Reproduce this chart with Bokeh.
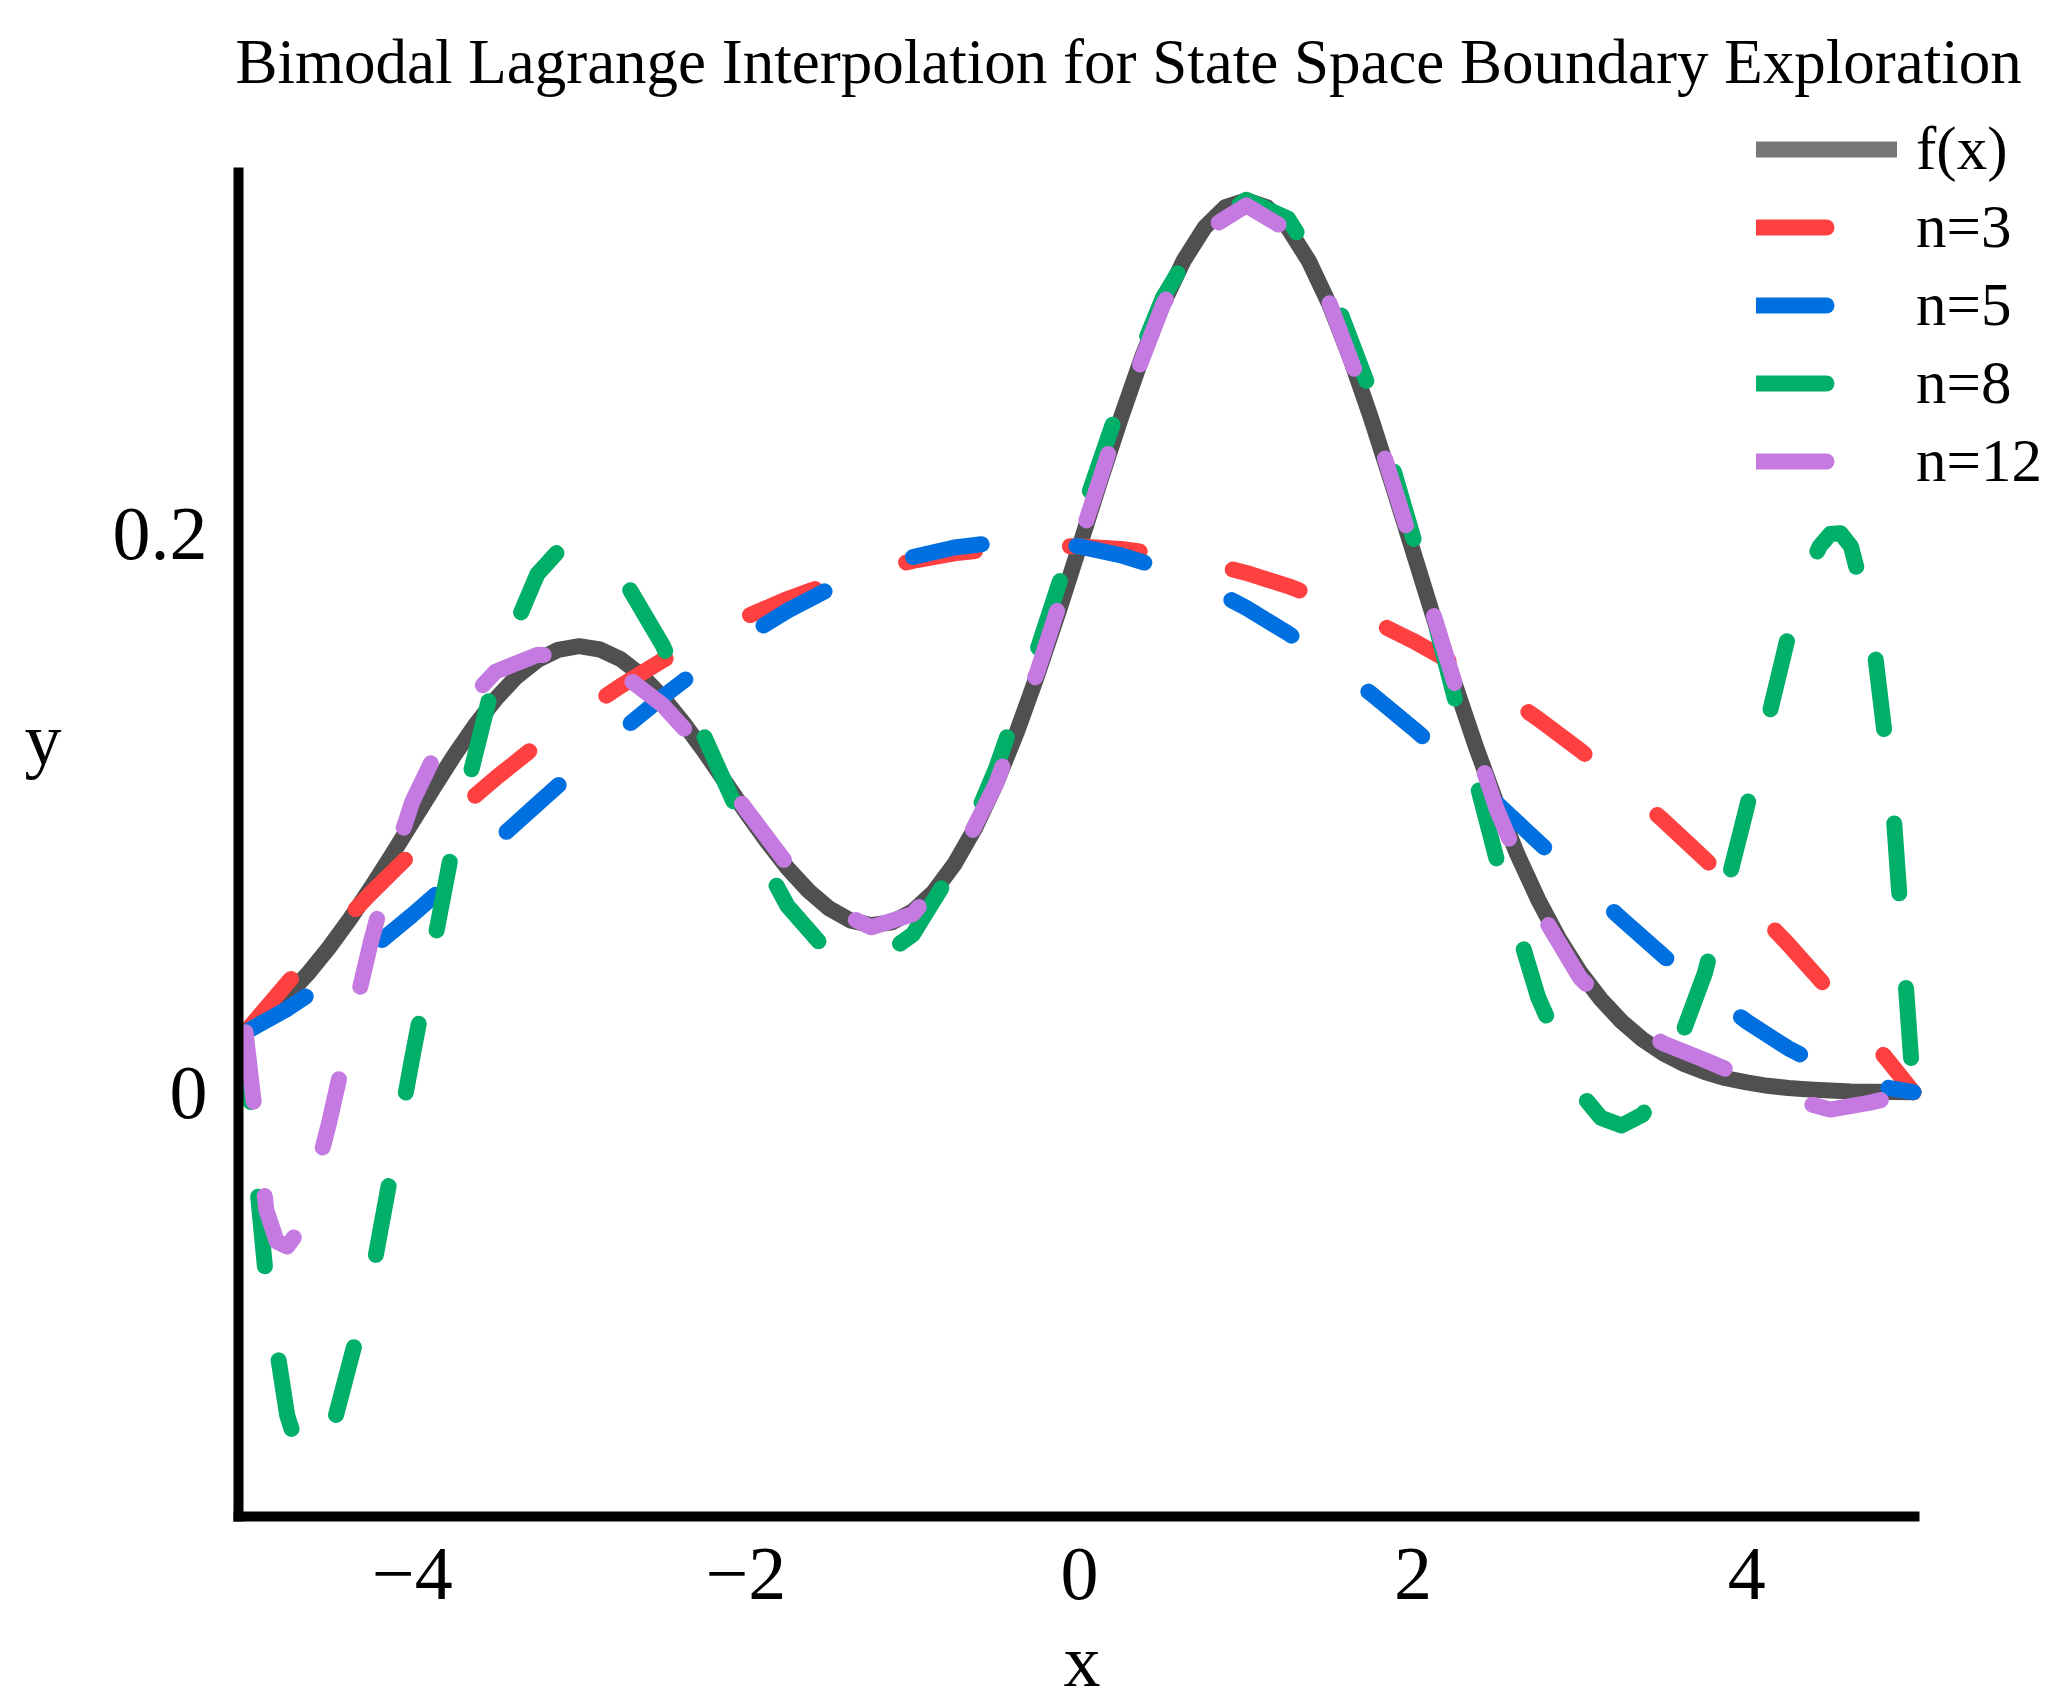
from bokeh.plotting import figure
from bokeh.models import Range1d, FixedTicker, Legend, LegendItem, Label
from bokeh.embed import file_html
from bokeh.resources import INLINE

# ---------------- data ----------------
# f(x): the bimodal target function
x_f = [-5.0, -4.875, -4.75, -4.625, -4.5, -4.375, -4.25, -4.125, -4.0, -3.875,
       -3.75, -3.625, -3.5, -3.375, -3.25, -3.125, -3.0, -2.875, -2.75, -2.625,
       -2.5, -2.375, -2.25, -2.125, -2.0, -1.875, -1.75, -1.625, -1.5, -1.375,
       -1.25, -1.125, -1.0, -0.875, -0.75, -0.625, -0.5, -0.375, -0.25, -0.125,
       0.0, 0.125, 0.25, 0.375, 0.5, 0.625, 0.75, 0.875, 1.0, 1.125,
       1.25, 1.375, 1.5, 1.625, 1.75, 1.875, 2.0, 2.125, 2.25, 2.375,
       2.5, 2.625, 2.75, 2.875, 3.0, 3.125, 3.25, 3.375, 3.5, 3.625,
       3.75, 3.875, 4.0, 4.125, 4.25, 4.375, 4.5, 4.625, 4.75, 4.875, 5.0]
f_vals = [0.0216, 0.0275, 0.0345, 0.0426, 0.0518, 0.0620, 0.0731, 0.0848, 0.0968, 0.1088,
          0.1205, 0.1313, 0.1408, 0.1488, 0.1547, 0.1584, 0.1597, 0.1585, 0.1550, 0.1492,
          0.1415, 0.1323, 0.1221, 0.1112, 0.1003, 0.0899, 0.0803, 0.0722, 0.0658, 0.0616,
          0.0599, 0.0609, 0.0648, 0.0717, 0.0817, 0.0947, 0.1106, 0.1291, 0.1498, 0.1721,
          0.1954, 0.2189, 0.2417, 0.2631, 0.2820, 0.2977, 0.3095, 0.3168, 0.3192, 0.3167,
          0.3093, 0.2975, 0.2817, 0.2625, 0.2409, 0.2176, 0.1936, 0.1695, 0.1461, 0.1240,
          0.1036, 0.0852, 0.0690, 0.0550, 0.0432, 0.0334, 0.0254, 0.0190, 0.0140, 0.0102,
          0.0073, 0.0051, 0.0036, 0.0024, 0.0016, 0.0011, 0.0007, 0.0004, 0.0003, 0.0002, 0.0001]

# common grid for n=3 and n=5
x_grid = [-5.0, -4.75, -4.5, -4.25, -4.0, -3.75, -3.5, -3.25, -3.0, -2.75,
          -2.5, -2.25, -2.0, -1.75, -1.5, -1.25, -1.0, -0.75, -0.5, -0.25,
          0.0, 0.25, 0.5, 0.75, 1.0, 1.25, 1.5, 1.75, 2.0, 2.25,
          2.5, 2.75, 3.0, 3.25, 3.5, 3.75, 4.0, 4.25, 4.5, 4.75, 5.0]
n3_vals = [0.0216, 0.0391, 0.0556, 0.0712, 0.0859, 0.0997, 0.1125, 0.1244, 0.1354, 0.1455,
           0.1546, 0.1629, 0.1702, 0.1766, 0.1820, 0.1866, 0.1902, 0.1929, 0.1946, 0.1955,
           0.1954, 0.1945, 0.1925, 0.1896, 0.1859, 0.1812, 0.1756, 0.1690, 0.1616, 0.1532,
           0.1439, 0.1337, 0.1225, 0.1105, 0.0974, 0.0835, 0.0687, 0.0530, 0.0363, 0.0186, 0.0001]
n5_vals = [0.0216, 0.0299, 0.0399, 0.0512, 0.0635, 0.0765, 0.0898, 0.1032, 0.1165, 0.1293,
           0.1415, 0.1529, 0.1632, 0.1724, 0.1802, 0.1867, 0.1916, 0.1950, 0.1968, 0.1969,
           0.1954, 0.1922, 0.1875, 0.1812, 0.1734, 0.1643, 0.1540, 0.1426, 0.1303, 0.1172,
           0.1036, 0.0897, 0.0758, 0.0621, 0.0489, 0.0366, 0.0254, 0.0158, 0.0081, 0.0027, 0.0001]

# n=8 (denser where it turns sharply)
x_n8 = [-5.0, -4.9375, -4.875, -4.75, -4.6875, -4.625, -4.5625, -4.5, -4.25, -4.0,
        -3.75, -3.5, -3.25, -3.125, -3.0, -2.875, -2.75, -2.5, -2.25, -2.0,
        -1.75, -1.5, -1.25, -1.0, -0.75, -0.5, -0.25, 0.0, 0.25, 0.5,
        0.75, 1.0, 1.25, 1.5, 1.75, 2.0, 2.25, 2.5, 2.75, 3.0,
        3.125, 3.25, 3.375, 3.5, 3.75, 4.0, 4.25, 4.375, 4.4375, 4.5,
        4.5625, 4.625, 4.75, 4.875, 5.0]
n8_vals = [0.0216, -0.0288, -0.0676, -0.1155, -0.1271, -0.1319, -0.1309, -0.1251, -0.0684, 0.0125,
           0.0904, 0.1503, 0.1855, 0.1937, 0.1959, 0.1929, 0.1854, 0.1601, 0.1274, 0.0942,
           0.0667, 0.0497, 0.0459, 0.0565, 0.0807, 0.1160, 0.1588, 0.2044, 0.2479, 0.2843,
           0.3093, 0.3194, 0.3127, 0.2890, 0.2498, 0.1987, 0.1410, 0.0836, 0.0340, 0.0000,
           -0.0090, -0.0118, -0.0079, 0.0026, 0.0428, 0.1019, 0.1636, 0.1874, 0.1954, 0.1998,
           0.2001, 0.1954, 0.1666, 0.1044, 0.0001]

# n=12 (denser near the left end)
x_n12 = [-5.0, -4.875, -4.8125, -4.75, -4.6875, -4.625, -4.5, -4.375, -4.25, -4.125,
         -4.0, -3.75, -3.5, -3.25, -3.0, -2.75, -2.5, -2.25, -2.0, -1.75,
         -1.5, -1.25, -1.0, -0.75, -0.5, -0.25, 0.0, 0.25, 0.5, 0.75,
         1.0, 1.25, 1.5, 1.75, 2.0, 2.25, 2.5, 2.75, 3.0, 3.25,
         3.5, 3.75, 4.0, 4.25, 4.5, 4.75, 5.0]
n12_vals = [0.0216, -0.0420, -0.0533, -0.0551, -0.0500, -0.0399, -0.0112, 0.0218, 0.0535, 0.0813,
            0.1040, 0.1349, 0.1506, 0.1566, 0.1561, 0.1501, 0.1387, 0.1223, 0.1013, 0.0815,
            0.0663, 0.0591, 0.0638, 0.0809, 0.1105, 0.1510, 0.1971, 0.2429, 0.2818, 0.3081,
            0.3174, 0.3085, 0.2823, 0.2424, 0.1948, 0.1462, 0.1016, 0.0660, 0.0411, 0.0261,
            0.0176, 0.0116, 0.0051, -0.0020, -0.0061, -0.0035, 0.0001]

x_ticks = [-4, -2, 0, 2, 4]
x_tick_labels = ["\u22124", "\u22122", "0", "2", "4"]
y_ticks = [0, 0.2]
y_tick_labels = ["0", "0.2"]

series_labels = ["f(x)", "n=3", "n=5", "n=8", "n=12"]
colors = ["#505050", "#FF4040", "#0070E0", "#00AF68", "#C47AE0"]
legend_colors = ["#777777", "#FF4040", "#0070E0", "#00AF68", "#C47AE0"]

TITLE = "Bimodal Lagrange Interpolation for State Space Boundary Exploration"
FONT = "Liberation Serif"
DASH = "70 95"
LW = 16

# The frame spans the whole canvas; the axes are drawn at fixed positions with
# bounds, so that the title, axis names and legend (which sit outside the axes
# box in the reference) are not clipped.
X_LO, X_HI = -5.042, 5.006       # axes box in data units
Y_LO, Y_HI = -0.1517, 0.3292

p = figure(width=2046, height=1704,
           x_range=Range1d(-6.4688, 5.7974), y_range=Range1d(-0.21896, 0.39070),
           output_backend="svg", toolbar_location=None,
           min_border_left=0, min_border_right=0,
           min_border_top=0, min_border_bottom=0,
           background_fill_color="white", border_fill_color="white")
p.outline_line_color = None
p.grid.visible = False
p.title.text = ""
p.title.visible = False
p.title.standoff = 0

# axes
for ax in (p.xaxis[0], p.yaxis[0]):
    ax.axis_line_width = 10
    ax.axis_line_color = "black"
    ax.axis_line_cap = "square"
    ax.major_tick_in = 0
    ax.major_tick_out = 0
    ax.minor_tick_in = 0
    ax.minor_tick_out = 0
    ax.major_label_text_font = FONT
    ax.major_label_text_font_size = "76px"
    ax.major_label_text_color = "black"

p.xaxis.fixed_location = Y_LO
p.xaxis.bounds = (X_LO, X_HI)
p.xaxis.ticker = FixedTicker(ticks=x_ticks)
p.xaxis.major_label_overrides = {t: s for t, s in zip(x_ticks, x_tick_labels)}
p.xaxis.major_label_standoff = 32

p.yaxis.fixed_location = X_LO
p.yaxis.bounds = (Y_LO, Y_HI)
p.yaxis.ticker = FixedTicker(ticks=y_ticks)
p.yaxis.major_label_overrides = {t: s for t, s in zip(y_ticks, y_tick_labels)}
p.yaxis.major_label_standoff = 31

# title and axis names
p.add_layout(Label(x=-5.060, y=0.36887, text=TITLE, text_align="left",
                   text_baseline="alphabetic", text_font=FONT,
                   text_font_size="63px", text_color="black"))
p.add_layout(Label(x=0.015, y=-0.20322, text="x", text_align="center",
                   text_baseline="alphabetic", text_font=FONT,
                   text_font_size="74px", text_color="black"))
p.add_layout(Label(x=-6.214, y=0.12630, text="y", text_align="center",
                   text_baseline="alphabetic", text_font=FONT,
                   text_font_size="74px", text_color="black"))

# curves
p.line(x_f, f_vals, line_color=colors[0], line_width=LW,
       line_cap="round", line_join="round")
for xs, ys, c in ((x_grid, n3_vals, colors[1]), (x_grid, n5_vals, colors[2]),
                  (x_n8, n8_vals, colors[3]), (x_n12, n12_vals, colors[4])):
    p.line(xs, ys, line_color=c, line_width=LW, line_dash=DASH,
           line_cap="round", line_join="round")

# legend: proxy renderers (placed far outside the visible ranges) carry the
# legend styling of the reference
items = []
for i, (lab, c) in enumerate(zip(series_labels, legend_colors)):
    kw = dict(line_color=c, line_width=LW, line_cap="round")
    if i > 0:
        kw["line_dash"] = DASH
    r = p.line(x=[-100.0, -99.0], y=[-100.0, -100.0], **kw)
    items.append(LegendItem(label=lab, renderers=[r]))

legend = Legend(items=items, location=(1756, 1204), orientation="vertical",
                glyph_width=141, glyph_height=78, label_height=78, label_width=20,
                spacing=0, padding=0, margin=0, label_standoff=19,
                border_line_color=None, background_fill_alpha=0,
                label_text_font=FONT, label_text_font_size="61px",
                label_text_color="black")
p.add_layout(legend)

open("out.html", "w").write(file_html(p, INLINE, "plot"))
